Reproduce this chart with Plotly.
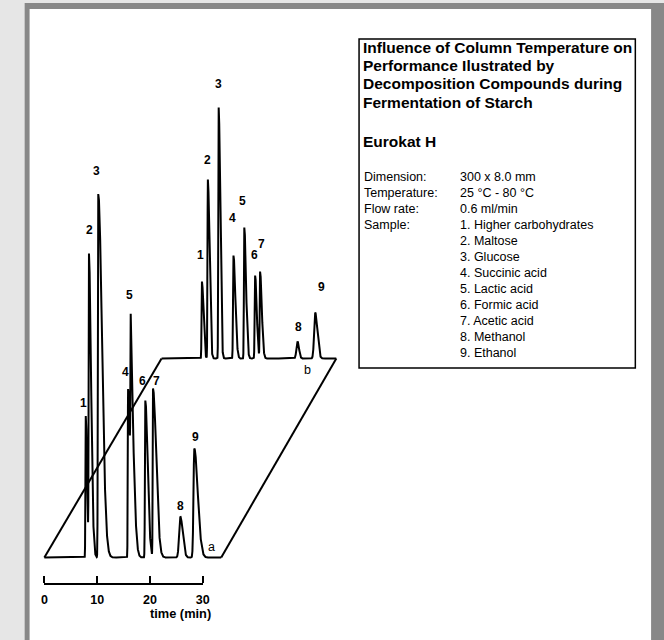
import numpy as np
import plotly.graph_objects as go

# ---------------- data ----------------
peak_labels = ["1", "2", "3", "4", "5", "6", "7", "8", "9"]
sample_names = ["Higher carbohydrates", "Maltose", "Glucose", "Succinic acid",
                "Lactic acid", "Formic acid", "Acetic acid", "Methanol", "Ethanol"]

# run a (25 °C, front chromatogram): retention time (min), apex height (signal units)
run_a_times = [7.84, 8.45, 10.21, 15.86, 16.36, 19.12, 20.58, 25.75, 28.40]
run_a_heights = [141.5, 304, 363.5, 168.5, 243, 157, 169, 41, 109]
run_a_front_width = [0.06, 0.06, 0.07, 0.06, 0.06, 0.07, 0.06, 0.22, 0.15]
run_a_tail_width = [0.25, 0.40, 0.70, 0.40, 0.55, 0.45, 0.60, 0.45, 0.65]
run_a_end = 33.5

# run b (80 °C, back chromatogram)
run_b_times = [7.65, 8.77, 10.82, 13.62, 15.67, 17.72, 18.66, 25.75, 29.10]
run_b_heights = [77, 179, 251, 103, 131, 83, 87, 17, 46]
run_b_front_width = [0.07, 0.07, 0.07, 0.08, 0.07, 0.08, 0.07, 0.20, 0.20]
run_b_tail_width = [0.28, 0.30, 0.28, 0.35, 0.32, 0.30, 0.32, 0.28, 0.40]
run_b_end = 33.1
run_b_time_offset = 22.2      # perspective shift of the back run (min)
run_b_signal_offset = 199     # perspective shift of the back run (signal units)

time_ticks = [0, 10, 20, 30]

info_title = ["Influence of Column Temperature on", "Performance Ilustrated by",
              "Decomposition Compounds during", "Fermentation of Starch"]
info_column = "Eurokat H"
info_keys = ["Dimension:", "Temperature:", "Flow rate:", "Sample:"]
info_values = ["300 x 8.0 mm", "25 °C - 80 °C", "0.6 ml/min"]

# ---------------- geometry / style ----------------
W, H = 664, 640
PX_PER_MIN = 5.36
X0_PX = 42.0
YBASE_PX = 557.5
AXIS_PX = 583.0
FONT = "Liberation Sans, Arial, sans-serif"

# label offsets (pixels) relative to each apex
a_lab_dx = [-2, 1, -1.5, -3, -1, -3, 3.5, 0, 1]
a_lab_dy = [13, 24, 23, 17, 20, 20, 8, 11, 12]
b_lab_dx = [-1.7, -0.4, 0.3, -0.6, -2, -0.7, 1.7, 1.3, 6.3]
b_lab_dy = [27, 20, 24, 38, 27, 21, 28, 15, 26]


def shape(t, tr, sl, sr):
    t = np.asarray(t, dtype=float)
    s = np.where(t < tr, sl, sr)
    return np.exp(-0.5 * ((t - tr) / s) ** 2)


def chromatogram(times, heights, wl, wr, end):
    n = len(times)
    M = np.array([[float(shape(times[i], times[j], wl[j], wr[j])) for j in range(n)]
                  for i in range(n)])
    amps = np.linalg.solve(M, np.array(heights, dtype=float))
    t = np.linspace(0, end, 8000)
    y = np.zeros_like(t)
    for j in range(n):
        y += amps[j] * shape(t, times[j], wl[j], wr[j])
    return t, y


ta, ya = chromatogram(run_a_times, run_a_heights, run_a_front_width, run_a_tail_width, run_a_end)
tb, yb = chromatogram(run_b_times, run_b_heights, run_b_front_width, run_b_tail_width, run_b_end)
tb = tb + run_b_time_offset
yb = yb + run_b_signal_offset

line = dict(color="black", width=2)
fig = go.Figure()
fig.add_trace(go.Scatter(x=ta, y=ya, mode="lines", line=line, hoverinfo="skip"))
fig.add_trace(go.Scatter(x=tb, y=yb, mode="lines", line=line, hoverinfo="skip"))
# perspective edges joining the runs
fig.add_trace(go.Scatter(x=[ta[0], tb[0]], y=[ya[0], yb[0]], mode="lines", line=line, hoverinfo="skip"))
fig.add_trace(go.Scatter(x=[ta[-1], tb[-1]], y=[ya[-1], yb[-1]], mode="lines", line=line, hoverinfo="skip"))
# time scale: x2 carries the line and labels, x3 (same scale, side top) carries the upward ticks
fig.add_trace(go.Scatter(x=[time_ticks[0], time_ticks[-1]], y=[None, None], xaxis="x2", yaxis="y2",
                         mode="lines", hoverinfo="skip"))
fig.add_trace(go.Scatter(x=[time_ticks[0], time_ticks[-1]], y=[None, None], xaxis="x3", yaxis="y3",
                         mode="lines", hoverinfo="skip"))

ann = []
lab_font = dict(family=FONT, size=12, color="black")
for i, lab in enumerate(peak_labels):
    ann.append(dict(x=run_a_times[i], y=run_a_heights[i], xref="x", yref="y",
                    text="<b>%s</b>" % lab, showarrow=False, xanchor="center", yanchor="middle",
                    xshift=a_lab_dx[i], yshift=a_lab_dy[i], font=lab_font))
    ann.append(dict(x=run_b_times[i] + run_b_time_offset, y=run_b_heights[i] + run_b_signal_offset,
                    xref="x", yref="y", text="<b>%s</b>" % lab, showarrow=False,
                    xanchor="center", yanchor="middle",
                    xshift=b_lab_dx[i], yshift=b_lab_dy[i], font=lab_font))
ann.append(dict(x=ta[-1], y=ya[-1], xref="x", yref="y", text="a", showarrow=False,
                xshift=-10, yshift=11, font=dict(family=FONT, size=12.5, color="black")))
ann.append(dict(x=tb[-1], y=yb[-1], xref="x", yref="y", text="b", showarrow=False,
                xshift=-29, yshift=-11, font=dict(family=FONT, size=12.5, color="black")))
ann.append(dict(x=180.5 / W, y=1 - 613 / H, xref="paper", yref="paper", text="<b>time (min)</b>",
                showarrow=False, xanchor="center", yanchor="middle",
                font=dict(family=FONT, size=12.8, color="black")))


def ptext(px, py, text, size, bold=False):
    return dict(x=px / W, y=1 - py / H, xref="paper", yref="paper",
                text=("<b>%s</b>" % text) if bold else text, showarrow=False,
                xanchor="left", yanchor="middle",
                font=dict(family=FONT, size=size, color="black"))


title_y = [47.5, 65.7, 84, 102]
for yv, txt in zip(title_y, info_title):
    ann.append(ptext(363, yv, txt, 15.5, bold=True))
ann.append(ptext(363, 141, info_column, 15.5, bold=True))
row0, dy = 176.7, 16.0
for i, k in enumerate(info_keys):
    ann.append(ptext(364, row0 + i * dy, k, 12.5))
for i, v in enumerate(info_values):
    ann.append(ptext(461.5, row0 + i * dy, v, 12.5))
for i, (lab, nm) in enumerate(zip(peak_labels, sample_names)):
    ann.append(ptext(461.5, row0 + (3 + i) * dy, "%s. %s" % (lab, nm), 12.5))

shapes = [
    dict(type="rect", xref="paper", yref="paper", x0=22 / W, x1=1.05, y0=-0.05, y1=1 - 3 / H,
         fillcolor="#888888", line=dict(width=0), layer="below"),
    dict(type="rect", xref="paper", yref="paper", x0=27 / W, x1=658 / W, y0=-0.05, y1=1 - 9 / H,
         fillcolor="white", line=dict(width=0), layer="below"),
    dict(type="rect", xref="paper", yref="paper", x0=361.5 / W, x1=642 / W, y0=1 - 368 / H, y1=1 - 39 / H,
         fillcolor="rgba(0,0,0,0)", line=dict(color="black", width=1.5), layer="above"),
]

scale_domain = [X0_PX / W, (X0_PX + time_ticks[-1] * PX_PER_MIN) / W]
scale_range = [time_ticks[0], time_ticks[-1]]
fig.update_layout(
    width=W, height=H, autosize=False,
    margin=dict(l=0, r=0, t=0, b=0),
    paper_bgcolor="#e6e6e6", plot_bgcolor="rgba(0,0,0,0)",
    showlegend=False,
    xaxis=dict(range=[-X0_PX / PX_PER_MIN, (W - X0_PX) / PX_PER_MIN], visible=False, fixedrange=True),
    yaxis=dict(range=[-(H - YBASE_PX), YBASE_PX], visible=False, fixedrange=True),
    # line + labels, axis at the bottom of y2 domain
    yaxis2=dict(domain=[1 - AXIS_PX / H, 1 - (AXIS_PX - 20) / H], range=[0, 1], visible=False,
                fixedrange=True, anchor="x2"),
    xaxis2=dict(domain=scale_domain, range=scale_range, anchor="y2", side="bottom",
                showline=True, linecolor="black", linewidth=2, ticks="",
                tickvals=time_ticks, ticktext=["<b>%d</b>" % v for v in time_ticks],
                tickfont=dict(family=FONT, size=12.5, color="black"), ticklabelstandoff=4,
                showgrid=False, zeroline=False, fixedrange=True),
    # upward ticks: axis on top of y3 domain, ticks outside
    yaxis3=dict(domain=[1 - (AXIS_PX + 20) / H, 1 - (AXIS_PX + 1) / H], range=[0, 1], visible=False,
                fixedrange=True, anchor="x3"),
    xaxis3=dict(domain=scale_domain, range=scale_range, anchor="y3", side="top",
                showline=False, ticks="outside", ticklen=7, tickwidth=2, tickcolor="black",
                tickvals=time_ticks, showticklabels=False,
                showgrid=False, zeroline=False, fixedrange=True),
    annotations=ann,
    shapes=shapes,
)

fig.write_html("out.html")
